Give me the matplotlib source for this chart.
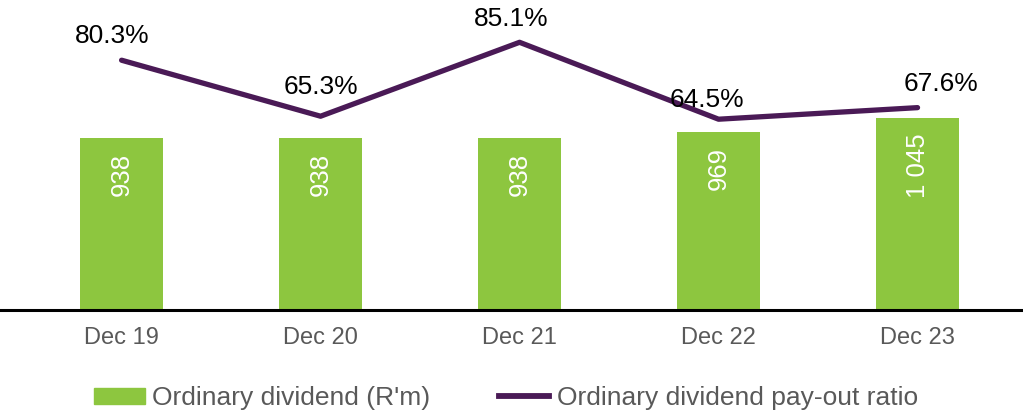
import numpy as np
import matplotlib.pyplot as plt
from matplotlib.lines import Line2D
from matplotlib.patches import Patch

plt.rcParams['font.family'] = ['Liberation Sans', 'DejaVu Sans']

years = ['Dec 19', 'Dec 20', 'Dec 21', 'Dec 22', 'Dec 23']
dividend = [938, 938, 938, 969, 1045]
dividend_labels = ['938', '938', '938', '969', '1 045']
payout = [80.3, 65.3, 85.1, 64.5, 67.6]

green = '#8DC63F'
purple = '#4A1A56'

fig = plt.figure(figsize=(10.23, 4.12), dpi=100)
ax = fig.add_axes([0, 102 / 412, 1, 300 / 412])
x = np.arange(len(years))

ax.bar(x, dividend, width=0.417, color=green, zorder=2)
for xi, v, lab in zip(x, dividend, dividend_labels):
    ax.text(xi, v - 80, lab, rotation=90, ha='center', va='top',
            color='white', fontsize=18.5)

ax.set_xlim(-0.611, 4.53)
ax.set_ylim(0, 1636)
ax.set_yticks([])
for s in ['top', 'right', 'left']:
    ax.spines[s].set_visible(False)
ax.spines['bottom'].set_linewidth(2.2)
ax.spines['bottom'].set_color('black')
ax.set_xticks(x)
ax.set_xticklabels(years, fontsize=17, color='#595959')
ax.tick_params(axis='x', length=0, pad=12)

ax2 = ax.twinx()
ax2.plot(x, payout, color=purple, lw=3.8, solid_capstyle='round', zorder=3)
ax2.set_ylim(13.4, 93.75)
ax2.axis('off')

# label offsets in pixels from each point
offsets = [(-9, 24), (0, 29), (-8, 23), (-12, 19), (23, 24)]
for xi, v, (dx, dy) in zip(x, payout, offsets):
    ax2.annotate(f'{v}%', (xi, v), xytext=(dx * 0.72, dy * 0.72),
                 textcoords='offset points', ha='center', va='center',
                 fontsize=19, color='black')

handles = [Patch(color=green, label="Ordinary dividend (R'm)"),
           Line2D([0], [0], color=purple, lw=4.2, label='Ordinary dividend pay-out ratio')]
fig.legend(handles=handles, loc='center', bbox_to_anchor=(0.495, 14 / 412), ncol=2,
           frameon=False, fontsize=19, labelcolor='#595959', handlelength=1.9,
           handleheight=0.55, handletextpad=0.3, columnspacing=2.6)

fig.savefig('out.png', dpi=100)
